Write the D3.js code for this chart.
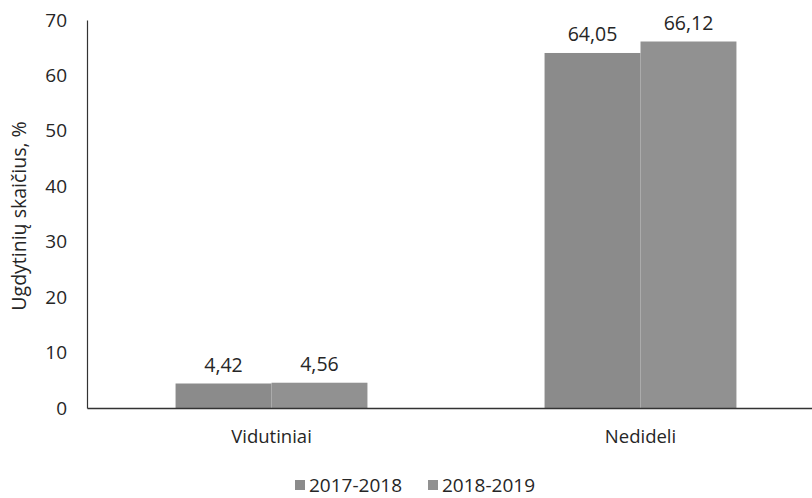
<!DOCTYPE html>
<html>
<head>
<meta charset="utf-8">
<script src="https://cdn.jsdelivr.net/npm/d3@7"></script>
<style>
	body { margin: 0; background: #fff; }
	text { font-family: "Open Sans", sans-serif; fill: #262626; }
</style>
</head>
<body>
<svg id="chart" width="812" height="498"></svg>
<script>
"use strict";

var categories = ["Vidutiniai", "Nedideli"];
var seriesNames = ["2017-2018", "2018-2019"];
var values2017 = [4.42, 64.05];
var values2018 = [4.56, 66.12];
var yTicks = [0, 10, 20, 30, 40, 50, 60, 70];
var colors = ["#8b8b8b", "#919191"];

var svg = d3.select("#chart");

// plot area edges
var plotLeft = 87, plotRight = 825, plotTop = 20, plotBottom = 408;

var xscale = d3.scaleBand()
	.domain(categories)
	.range([plotLeft, plotRight])
	.paddingInner(0.48)
	.paddingOuter(0.24);
var sub = d3.scaleBand()
	.domain(seriesNames)
	.range([0, xscale.bandwidth()]);
var yscale = d3.scaleLinear()
	.domain([0, 70])
	.range([plotBottom, plotTop]);

// bars
var series = [values2017, values2018];
series.forEach((vals, si)=>{
	let g = svg.append("g");
	let rows = categories.map((c, i)=>[c, vals[i]]);
	g.selectAll("rect")
	 .data(rows)
	 .enter()
	 .append("rect")
	 .attr("x", d=>xscale(d[0]) + sub(seriesNames[si]))
	 .attr("width", sub.bandwidth())
	 .attr("y", d=>yscale(d[1]))
	 .attr("height", d=>plotBottom - yscale(d[1]))
	 .attr("fill", colors[si]);
	g.selectAll("text")
	 .data(rows)
	 .enter()
	 .append("text")
	 .attr("x", d=>xscale(d[0]) + sub(seriesNames[si]) + sub.bandwidth() / 2)
	 .attr("y", d=>yscale(d[1]) - 12)
	 .attr("text-anchor", "middle")
	 .attr("font-size", 19.5)
	 .text(d=>d3.format(".2f")(d[1]).replace(".", ","));
});

// y axis
var yaxis = d3.axisLeft(yscale).tickValues(yTicks).tickSize(0).tickPadding(20);
var yg = svg.append("g")
	.attr("transform", `translate(${plotLeft},0)`)
	.call(yaxis);
yg.select(".domain").attr("stroke", "#333").attr("stroke-width", 1.2);
yg.selectAll("text").attr("font-size", 19).style("font-family", "'Open Sans', sans-serif").attr("fill", "#262626");

// x axis
var xaxis = d3.axisBottom(xscale).tickSize(0).tickPadding(22);
var xg = svg.append("g")
	.attr("transform", `translate(0,${plotBottom})`)
	.call(xaxis);
xg.select(".domain").attr("stroke", "#333").attr("stroke-width", 1.5);
xg.selectAll("text").attr("font-size", 18.5).style("font-family", "'Open Sans', sans-serif").attr("fill", "#262626");

// y label
svg.append("text")
	.attr("transform", "translate(26,216) rotate(-90)")
	.attr("text-anchor", "middle")
	.attr("font-size", 19.5)
	.text("Ugdytinių skaičius, %");

// legend
var legendX = [295, 428];
seriesNames.forEach((name, i)=>{
	let lg = svg.append("g").attr("transform", `translate(${legendX[i]},480)`);
	lg.append("rect").attr("width", 10).attr("height", 10).attr("fill", colors[i]);
	lg.append("text").attr("x", 14).attr("y", 12).attr("font-size", 19).text(name);
});
</script>
</body>
</html>
